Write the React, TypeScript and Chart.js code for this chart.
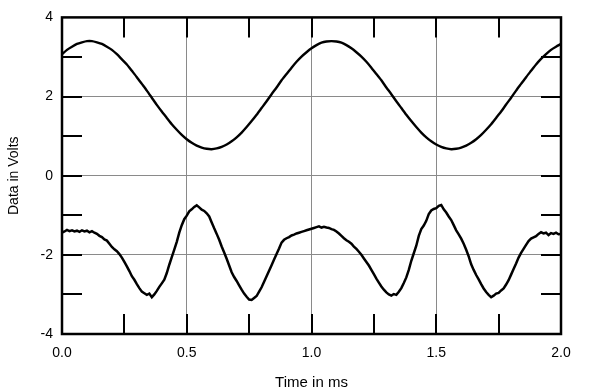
import React, { useEffect, useRef } from "react";
import { Chart, registerables } from "chart.js";

Chart.register(...registerables);

// Time axis (ms) for each series
const topStep = 0.02;
const bottomStep = 0.01;

// Upper trace (V), sampled every 0.02 ms from 0.00 to 2.00
const topValues = [
  3.07, 3.18, 3.26, 3.33, 3.37, 3.40, 3.40, 3.37, 3.33, 3.26,
  3.18, 3.07, 2.94, 2.81, 2.65, 2.49, 2.32, 2.15, 1.97, 1.79,
  1.62, 1.46, 1.30, 1.16, 1.03, 0.92, 0.83, 0.76, 0.71, 0.68,
  0.67, 0.69, 0.73, 0.79, 0.87, 0.97, 1.09, 1.23, 1.38, 1.54,
  1.71, 1.88, 2.06, 2.23, 2.41, 2.57, 2.73, 2.88, 3.01, 3.12,
  3.22, 3.30, 3.36, 3.39, 3.40, 3.39, 3.36, 3.30, 3.22, 3.12,
  3.01, 2.88, 2.73, 2.57, 2.41, 2.23, 2.06, 1.88, 1.71, 1.54,
  1.38, 1.23, 1.09, 0.97, 0.87, 0.79, 0.73, 0.69, 0.67, 0.68,
  0.71, 0.76, 0.83, 0.92, 1.03, 1.16, 1.30, 1.46, 1.62, 1.80,
  1.97, 2.15, 2.32, 2.49, 2.65, 2.81, 2.95, 3.07, 3.18, 3.26,
  3.33,
];

// Lower trace (V), sampled every 0.01 ms from 0.00 to 2.00
const bottomValues = [
  -1.44, -1.41, -1.37, -1.40, -1.38, -1.41, -1.39, -1.42, -1.38, -1.41,
  -1.39, -1.43, -1.40, -1.44, -1.47, -1.52, -1.55, -1.61, -1.64, -1.72,
  -1.80, -1.86, -1.91, -1.98, -2.07, -2.18, -2.29, -2.41, -2.54, -2.63,
  -2.74, -2.84, -2.93, -2.97, -3.01, -2.98, -3.07, -3.00, -2.91, -2.81,
  -2.72, -2.63, -2.46, -2.25, -2.06, -1.87, -1.67, -1.44, -1.25, -1.10,
  -1.01, -0.90, -0.85, -0.79, -0.75, -0.80, -0.86, -0.89, -0.95, -1.03,
  -1.18, -1.33, -1.47, -1.62, -1.79, -1.94, -2.10, -2.27, -2.44, -2.56,
  -2.66, -2.77, -2.88, -2.98, -3.06, -3.13, -3.14, -3.09, -3.04, -2.93,
  -2.82, -2.68, -2.54, -2.40, -2.26, -2.12, -1.98, -1.84, -1.69, -1.62,
  -1.58, -1.55, -1.51, -1.49, -1.46, -1.44, -1.42, -1.40, -1.38, -1.36,
  -1.34, -1.32, -1.30, -1.28, -1.31, -1.29, -1.31, -1.32, -1.35, -1.37,
  -1.41, -1.46, -1.52, -1.58, -1.63, -1.67, -1.72, -1.79, -1.85, -1.92,
  -2.00, -2.09, -2.18, -2.27, -2.38, -2.49, -2.60, -2.70, -2.80, -2.88,
  -2.95, -3.00, -3.03, -2.99, -3.01, -2.93, -2.84, -2.71, -2.57, -2.38,
  -2.15, -1.96, -1.77, -1.52, -1.35, -1.26, -1.14, -0.97, -0.88, -0.84,
  -0.82, -0.76, -0.74, -0.85, -0.93, -1.03, -1.12, -1.25, -1.38, -1.48,
  -1.59, -1.72, -1.87, -2.04, -2.24, -2.38, -2.51, -2.62, -2.74, -2.85,
  -2.94, -3.01, -3.07, -3.03, -2.98, -2.96, -2.90, -2.85, -2.75, -2.64,
  -2.50, -2.36, -2.22, -2.07, -1.95, -1.85, -1.75, -1.65, -1.59, -1.56,
  -1.53, -1.47, -1.43, -1.46, -1.44, -1.50, -1.45, -1.47, -1.44, -1.48,
  -1.47,
];

const xTickValues = [0, 0.25, 0.5, 0.75, 1.0, 1.25, 1.5, 1.75, 2.0];
const yTickValues = [-4, -3, -2, -1, 0, 1, 2, 3, 4];
const xTitle = "Time in ms";
const yTitle = "Data in Volts";

const FONT = '"Liberation Sans", Arial, Helvetica, sans-serif';

const innerTicks = {
  id: "innerTicks",
  afterDatasetsDraw(chart: any) {
    const { ctx, chartArea, scales } = chart;
    const { left, right, top, bottom } = chartArea;
    const len = 20;
    ctx.save();
    ctx.strokeStyle = "#000";
    ctx.lineWidth = 2;
    ctx.beginPath();
    for (const v of yTickValues) {
      if (v === -4 || v === 4) continue;
      const y = Math.round(scales.y.getPixelForValue(v));
      ctx.moveTo(left, y);
      ctx.lineTo(left + len, y);
      ctx.moveTo(right - len, y);
      ctx.lineTo(right, y);
    }
    for (const v of xTickValues) {
      if (v === 0 || v === 2) continue;
      const x = Math.round(scales.x.getPixelForValue(v));
      ctx.moveTo(x, top);
      ctx.lineTo(x, top + len);
      ctx.moveTo(x, bottom - len);
      ctx.lineTo(x, bottom);
    }
    ctx.stroke();
    ctx.lineWidth = 2.5;
    ctx.strokeRect(left, top, right - left, bottom - top);
    ctx.restore();
  },
};

export default function App() {
  const ref = useRef<HTMLCanvasElement | null>(null);

  useEffect(() => {
    if (!ref.current) return;
    const topData = topValues.map((v, i) => ({ x: +(i * topStep).toFixed(2), y: v }));
    const bottomData = bottomValues.map((v, i) => ({ x: +(i * bottomStep).toFixed(2), y: v }));

    const chart = new Chart(ref.current, {
      type: "line",
      data: {
        datasets: [
          {
            data: topData,
            borderColor: "#000",
            borderWidth: 2.4,
            pointRadius: 0,
            tension: 0.2,
            fill: false,
          },
          {
            data: bottomData,
            borderColor: "#000",
            borderWidth: 2.5,
            pointRadius: 0,
            tension: 0,
            fill: false,
          },
        ],
      },
      options: {
        animation: false,
        responsive: false,
        maintainAspectRatio: false,
        layout: { padding: { left: 0, top: 14, right: 39, bottom: 0 } },
        plugins: {
          legend: { display: false },
          tooltip: { enabled: false },
        },
        scales: {
          x: {
            type: "linear",
            min: 0,
            max: 2,
            afterBuildTicks(scale: any) {
              scale.ticks = xTickValues.map((v) => ({ value: v }));
            },
            afterFit(scale: any) {
              scale.height = 58;
            },
            ticks: {
              autoSkip: false,
              maxRotation: 0,
              padding: 11,
              color: "#000",
              font: { family: FONT, size: 14 },
              callback: (v: any) =>
                Math.abs((Number(v) * 2) % 1) < 1e-9 ? Number(v).toFixed(1) : "",
            },
            grid: {
              drawTicks: false,
              lineWidth: 1,
              color: (c: any) => {
                const v = c.tick ? c.tick.value : 0;
                if (v === 0 || v === 2) return "rgba(0,0,0,0)";
                return Math.abs((v * 2) % 1) < 1e-9 ? "#8a8a8a" : "rgba(0,0,0,0)";
              },
            },
            border: { display: false },
            title: {
              display: true,
              text: xTitle,
              color: "#000",
              font: { family: FONT, size: 15 },
              padding: { top: 0, bottom: 0 },
            },
          },
          y: {
            type: "linear",
            min: -4,
            max: 4,
            afterBuildTicks(scale: any) {
              scale.ticks = yTickValues.map((v) => ({ value: v }));
            },
            afterFit(scale: any) {
              scale.width = 62;
            },
            ticks: {
              autoSkip: false,
              padding: 9,
              color: "#000",
              font: { family: FONT, size: 14 },
              callback: (v: any) => (Number(v) % 2 === 0 ? String(v) : ""),
            },
            grid: {
              drawTicks: false,
              lineWidth: 1,
              color: (c: any) => {
                const v = c.tick ? c.tick.value : 0;
                if (v === -4 || v === 4) return "rgba(0,0,0,0)";
                return v % 2 === 0 ? "#8a8a8a" : "rgba(0,0,0,0)";
              },
            },
            border: { display: false },
            title: {
              display: true,
              text: yTitle,
              color: "#000",
              font: { family: FONT, size: 14 },
              padding: { top: 6, bottom: 0 },
            },
          },
        },
      },
      plugins: [innerTicks],
    });
    return () => chart.destroy();
  }, []);

  return (
    <div style={{ position: "fixed", left: 0, top: 0, width: 600, height: 392, background: "#fff" }}>
      <canvas ref={ref} width={600} height={392} style={{ display: "block", width: 600, height: 392 }} />
    </div>
  );
}
